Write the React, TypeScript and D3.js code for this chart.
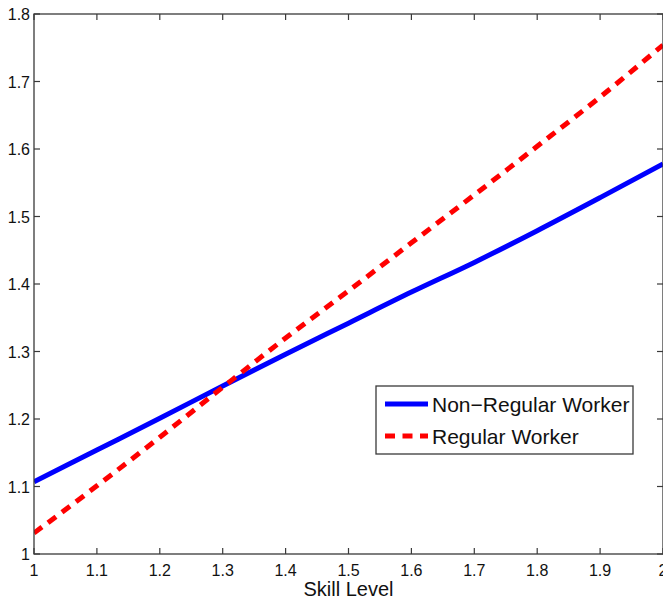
import React from "react";
import * as d3 from "d3";

const skill = [1.0, 1.1, 1.2, 1.3, 1.4, 1.5, 1.6, 1.7, 1.8, 1.9, 2.0];
const nonRegular = [1.107, 1.154, 1.201, 1.249, 1.296, 1.342, 1.388, 1.432, 1.479, 1.528, 1.578];
const regular = [1.031, 1.101, 1.173, 1.247, 1.32, 1.39, 1.461, 1.532, 1.604, 1.677, 1.754];
const xTicks = [1, 1.1, 1.2, 1.3, 1.4, 1.5, 1.6, 1.7, 1.8, 1.9, 2];
const yTicks = [1, 1.1, 1.2, 1.3, 1.4, 1.5, 1.6, 1.7, 1.8];
const seriesNames = ["Non\u2212Regular Worker", "Regular Worker"];

const W = 663;
const H = 600;
const left = 34;
const right = 663;
const top = 14;
const bottom = 554;

export default function App() {
  const x = d3.scaleLinear().domain([1, 2]).range([left, right]);
  const y = d3.scaleLinear().domain([1, 1.8]).range([bottom, top]);
  const line = d3
    .line<number>()
    .x((_, i) => x(skill[i]))
    .y((d) => y(d))
    .curve(d3.curveMonotoneX);
  const axisColor = "#3a3a3a";
  const font = "'Liberation Sans', Arial, Helvetica, sans-serif";
  const fmt = (v: number) => (Number.isInteger(v) ? String(v) : v.toFixed(1));

  return (
    <svg
      width={W}
      height={H}
      style={{ position: "absolute", left: 0, top: 0, background: "#fff" }}
      fontFamily={font}
    >
      <rect x={0} y={0} width={W} height={H} fill="#fff" />
      <defs>
        <clipPath id="plot">
          <rect x={left} y={top} width={right - left} height={bottom - top} />
        </clipPath>
      </defs>
      <g clipPath="url(#plot)">
        <path d={line(nonRegular) || ""} fill="none" stroke="#0000ff" strokeWidth={5} />
        <path
          d={line(regular) || ""}
          fill="none"
          stroke="#ff0000"
          strokeWidth={5}
          strokeDasharray="10,7.5"
        />
      </g>
      <rect
        x={left}
        y={top}
        width={right - left}
        height={bottom - top}
        fill="none"
        stroke={axisColor}
        strokeWidth={1.3}
      />
      {xTicks.map((t) => (
        <g key={"x" + t}>
          <line x1={x(t)} x2={x(t)} y1={bottom} y2={bottom - 6} stroke={axisColor} strokeWidth={1.2} />
          <line x1={x(t)} x2={x(t)} y1={top} y2={top + 6} stroke={axisColor} strokeWidth={1.2} />
          <text x={x(t)} y={576} fontSize={16} textAnchor="middle" fill="#111">
            {fmt(t)}
          </text>
        </g>
      ))}
      {yTicks.map((t) => (
        <g key={"y" + t}>
          <line x1={left} x2={left + 6} y1={y(t)} y2={y(t)} stroke={axisColor} strokeWidth={1.2} />
          <line x1={right} x2={right - 6} y1={y(t)} y2={y(t)} stroke={axisColor} strokeWidth={1.2} />
          <text x={left - 4} y={y(t) + 6} fontSize={16} textAnchor="end" fill="#111">
            {fmt(t)}
          </text>
        </g>
      ))}
      <text x={x(1.5)} y={596} fontSize={20} textAnchor="middle" fill="#111">
        Skill Level
      </text>
      <g>
        <rect x={376} y={386} width={257} height={68} fill="#fff" stroke={axisColor} strokeWidth={1.3} />
        <line x1={385} x2={428} y1={404} y2={404} stroke="#0000ff" strokeWidth={5} />
        <line x1={385} x2={428} y1={436} y2={436} stroke="#ff0000" strokeWidth={5} strokeDasharray="10,7.5" />
        <text x={432} y={412} fontSize={21} fill="#111">
          {seriesNames[0]}
        </text>
        <text x={432} y={444} fontSize={21} fill="#111">
          {seriesNames[1]}
        </text>
      </g>
    </svg>
  );
}
